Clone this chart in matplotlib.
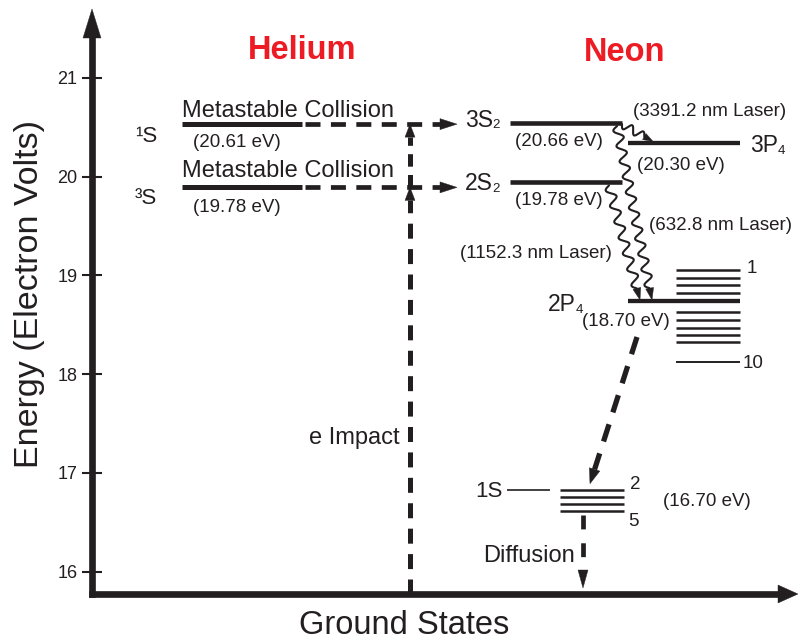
import matplotlib
matplotlib.use('Agg')
import matplotlib.pyplot as plt
from matplotlib.patches import Polygon
import numpy as np

plt.rcParams['font.family'] = ['Liberation Sans', 'DejaVu Sans']
plt.rcParams['lines.scale_dashes'] = False

# ---------------- data ----------------
y_ticks = [16, 17, 18, 19, 20, 21]
he_names = ['¹S', '³S']
he_levels = [20.53, 19.89]                 # drawn level heights (eV)
he_labels = ['(20.61 eV)', '(19.78 eV)']
ne_s_names = ['3S', '2S']
ne_s_subs = ['2', '2']
ne_s_levels = [20.54, 19.94]
ne_s_labels = ['(20.66 eV)', '(19.78 eV)']
ne_3p_level = 20.34
ne_3p_label = '(20.30 eV)'
ne_2p_level = 18.74
ne_2p_label = '(18.70 eV)'
ne_2p_sublevels = [19.05, 18.97, 18.90, 18.82, 18.63, 18.55, 18.47, 18.40, 18.32, 18.12]
ne_1s_sublevels = [16.83, 16.76, 16.69, 16.61]
ne_1s_label = '(16.70 eV)'
laser_labels = ['(3391.2 nm Laser)', '(632.8 nm Laser)', '(1152.3 nm Laser)']

INK = '#231f20'
RED = '#ed1c24'

# ---------------- figure / axes ----------------
W, H = 798, 642
fig = plt.figure(figsize=(W / 100, H / 100), dpi=100)
X0, X1 = 92, 795
PY0, PY1 = 594, 10
K = 98.8          # pixels per eV
def e_of(p):      # pixel row -> energy
    return 21 - (np.asarray(p, dtype=float) - 77.7) / K
def p_of(e):      # energy -> pixel row
    return 77.7 + (21 - np.asarray(e, dtype=float)) * K

ax = fig.add_axes([X0 / W, (H - PY0) / H, (X1 - X0) / W, (PY0 - PY1) / H])
ax.set_xlim(X0, X1)
ax.set_ylim(e_of(PY0), e_of(PY1))

for s in ['top', 'right']:
    ax.spines[s].set_visible(False)
for s in ['left', 'bottom']:
    ax.spines[s].set_linewidth(4.8)
    ax.spines[s].set_color(INK)
    ax.spines[s].set_capstyle('projecting')
ax.spines['left'].set_bounds(e_of(PY0), e_of(32))
ax.spines['bottom'].set_bounds(X0, 780)

ax.set_xticks([])
ax.set_yticks(y_ticks)
ax.tick_params(axis='y', direction='inout', length=15, width=1.5, labelsize=13,
               pad=3, color=INK, labelcolor=INK)

ax.set_ylabel('Energy (Electron Volts)', fontsize=24.5, color=INK)
ax.yaxis.set_label_coords((30 - X0) / (X1 - X0), (PY0 - 294) / (PY0 - PY1))
ax.yaxis.label.set_va('center')
ax.set_xlabel('Ground States', fontsize=23.5, color=INK)
ax.xaxis.set_label_coords((404 - X0) / (X1 - X0), (PY0 - 634.5) / (PY0 - PY1))
ax.xaxis.label.set_va('baseline')


def arrowhead(tip_x, tip_e, dx, dy, length, width):
    """filled triangle; dx, dy direction in pixel space (dy down positive)"""
    n = np.hypot(dx, dy)
    ux, uy = dx / n, dy / n
    nx, ny = -uy, ux
    ty = float(p_of(tip_e))
    bx, by = tip_x - ux * length, ty - uy * length
    pts = [(tip_x, ty),
           (bx + nx * width / 2, by + ny * width / 2),
           (bx - nx * width / 2, by - ny * width / 2)]
    pts = [(x, float(e_of(y))) for x, y in pts]
    ax.add_patch(Polygon(pts, closed=True, facecolor=INK, edgecolor=INK,
                         lw=0.3, clip_on=False, zorder=4))
    return bx, float(e_of(by))


def wavy(p0, p1, amp=4.5, lam=16, head=12, hw=8):
    x0, y0 = p0[0], float(p_of(p0[1]))
    x1, y1 = p1[0], float(p_of(p1[1]))
    dx, dy = x1 - x0, y1 - y0
    L = np.hypot(dx, dy)
    ux, uy = dx / L, dy / L
    nx, ny = -uy, ux
    Lw = L - head
    nhalf = max(1, int(round(2 * Lw / lam)))
    lam2 = 2 * Lw / nhalf
    s = np.linspace(0, Lw, 600)
    w = amp * np.sin(2 * np.pi * s / lam2)
    xs = x0 + ux * s + nx * w
    ys = y0 + uy * s + ny * w
    ax.plot(xs, e_of(ys), color=INK, lw=1.5, solid_capstyle='round', zorder=3,
            clip_on=False)
    arrowhead(x1, p1[1], dx, dy, head, hw)


# axis arrow heads
arrowhead(X0, float(e_of(9)), 0, -1, 29, 18)
arrowhead(798, float(e_of(PY0)), 1, 0, 20, 18)

# ---------------- titles ----------------
ax.text(302, e_of(59), 'Helium', color=RED, fontsize=23.5, fontweight='bold',
        ha='center', va='baseline')
ax.text(625, e_of(61), 'Neon', color=RED, fontsize=23.5, fontweight='bold',
        ha='center', va='baseline')

# ---------------- helium ----------------
ax.hlines(he_levels, 182, 302, lw=3.6, color=INK)
he_name_base = [141.7, 204]
he_lab_base = [146.7, 211.7]
mc_base = [116.7, 176.7]
for lev, nm, lab, nb, lb, mb in zip(he_levels, he_names, he_labels,
                                    he_name_base, he_lab_base, mc_base):
    ax.text(157, e_of(nb), nm, fontsize=16, ha='right', va='baseline', color=INK)
    ax.text(193, e_of(lb), lab, fontsize=13.5, ha='left', va='baseline', color=INK)
    ax.text(182, e_of(mb), 'Metastable Collision', fontsize=17, ha='left',
            va='baseline', color=INK)
    bx, _ = arrowhead(457, lev, 1, 0, 17, 11)
    ax.plot([305, bx], [lev, lev], color=INK, lw=3.4, dashes=(10.8, 7.5))

# e impact
xi = 410
b3x, b3e = arrowhead(xi, he_levels[1], 0, -1, 13, 10)
ax.plot([xi, xi], [e_of(PY0), b3e], color=INK, lw=3.6, dashes=(10.8, 7.5))
b1x, b1e = arrowhead(xi, he_levels[0], 0, -1, 13, 10)
ax.plot([xi, xi], [he_levels[1], b1e], color=INK, lw=3.6, dashes=(9, 6))
ax.text(400, e_of(444), 'e Impact', fontsize=17, ha='right', va='baseline', color=INK)

# ---------------- neon ----------------
ax.hlines(ne_s_levels, 510, 622, lw=3.3, color=INK)
ne_name_base = [126.7, 190.5]
ne_lab_base = [146.5, 205]


def sub_label(x, yb, main, sub, size=16.5, subsize=9.5):
    t = ax.text(x, e_of(yb), main, fontsize=size, ha='left', va='baseline', color=INK)
    ax.annotate(sub, xy=(1, 0), xycoords=t, xytext=(-0.2, 0.3),
                textcoords='offset points', fontsize=subsize, ha='left',
                va='bottom', color=INK)


for lev, nm, sb, lab, nb, lb in zip(ne_s_levels, ne_s_names, ne_s_subs,
                                    ne_s_labels, ne_name_base, ne_lab_base):
    sub_label(465, nb, nm, sb)
    ax.text(515, e_of(lb), lab, fontsize=13.5, ha='left', va='baseline', color=INK)

ax.hlines(ne_3p_level, 628, 740, lw=3.1, color=INK)
sub_label(750, 152, '3P', '4')
ax.text(637, e_of(169.5), ne_3p_label, fontsize=13.5, ha='left', va='baseline', color=INK)

ax.hlines(ne_2p_level, 628, 740, lw=3.1, color=INK)
ax.hlines(ne_2p_sublevels[:-1], 676, 740, lw=1.8, color=INK)
ax.hlines(ne_2p_sublevels[-1], 676, 740, lw=1.4, color=INK)
sub_label(548, 311, '2P', '4')
ax.text(582, e_of(326), ne_2p_label, fontsize=13.5, ha='left', va='baseline', color=INK)
ax.text(747, e_of(272.5), '1', fontsize=13.5, ha='left', va='baseline', color=INK)
ax.text(743, e_of(368), '10', fontsize=13.5, ha='left', va='baseline', color=INK)

# lasers
wavy((622, ne_s_levels[0] - 1 / K), (653, ne_3p_level + 1.5 / K), amp=4.0, lam=14,
     head=10, hw=7)
wavy((617, ne_s_levels[0] - 3 / K), (652, ne_2p_level + 1 / K))
wavy((609, ne_s_levels[1] - 3 / K), (640, ne_2p_level + 1 / K))
ax.text(633, e_of(116), laser_labels[0], fontsize=13.5, ha='left', va='baseline', color=INK)
ax.text(649, e_of(229.5), laser_labels[1], fontsize=13.5, ha='left', va='baseline', color=INK)
ax.text(460, e_of(257.5), laser_labels[2], fontsize=13.5, ha='left', va='baseline', color=INK)

# 2P -> 1S dashed
tipx, tipe = 590, ne_1s_sublevels[0] + 6 / K
bx, be = arrowhead(tipx, tipe, 590 - 637, p_of(tipe) - 337, 15, 11)
ax.plot([637, bx], [e_of(337), be], color=INK, lw=3.8, dashes=(13, 9))

# 1S group
ax.hlines(ne_1s_sublevels, 560, 624, lw=1.8, color=INK)
ax.hlines(ne_1s_sublevels[0], 507, 550, lw=1.2, color=INK)
ax.text(475, e_of(496.7), '1S', fontsize=16, ha='left', va='baseline', color=INK)
ax.text(630, e_of(489), '2', fontsize=13.5, ha='left', va='baseline', color=INK)
ax.text(628, e_of(526), '5', fontsize=13.5, ha='left', va='baseline', color=INK)
ax.text(663, e_of(506), ne_1s_label, fontsize=13.5, ha='left', va='baseline', color=INK)

# diffusion
xd = 583
bx, be = arrowhead(xd, float(e_of(588)), 0, 1, 18, 10)
ax.plot([xd, xd], [ne_1s_sublevels[-1] - 4 / K, be], color=INK, lw=3.4, dashes=(10, 10))
ax.text(483, e_of(562), 'Diffusion', fontsize=17, ha='left', va='baseline', color=INK)

fig.savefig('out.png', dpi=100)
